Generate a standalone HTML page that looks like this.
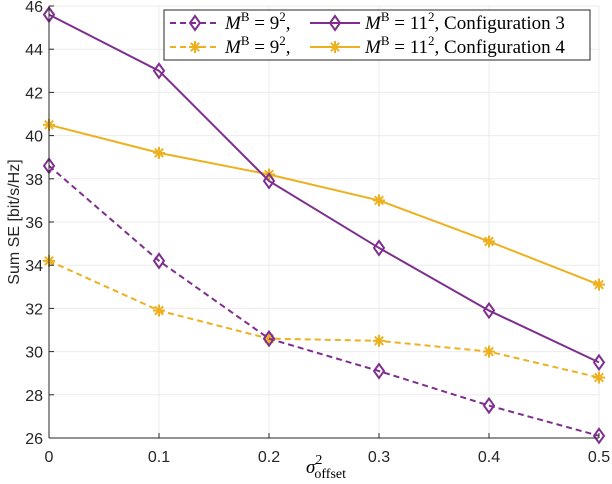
<!DOCTYPE html>
<html><head><meta charset="utf-8"><style>
html,body{margin:0;padding:0;background:#fff;width:612px;height:484px;overflow:hidden}
svg{display:block}
.t{font-family:"Liberation Sans",sans-serif;font-size:16px;fill:#262626}
.s{font-family:"Liberation Serif",serif;font-size:19px;fill:#000}
</style></head><body>
<svg id="chart" width="612" height="484">
<g id="grid"></g><g id="series"></g><g id="axes"></g><g id="legend"></g>
</svg>
<script>
const xVals=[0,0.1,0.2,0.3,0.4,0.5];
const cfg3B9=[38.6,34.2,30.6,29.1,27.5,26.1];
const cfg3B11=[45.6,43.0,37.9,34.8,31.9,29.5];
const cfg4B9=[34.2,31.9,30.6,30.5,30.0,28.8];
const cfg4B11=[40.5,39.2,38.2,37.0,35.1,33.1];
const xTicks=[0,0.1,0.2,0.3,0.4,0.5];
const yTicks=[26,28,30,32,34,36,38,40,42,44,46];
const NS="http://www.w3.org/2000/svg";
const X0=49,X1=599,Y0=438,Y1=6;
const sx=v=>X0+(v-0)/(0.5)*(X1-X0);
const sy=v=>Y0-(v-26)/(20)*(Y0-Y1);
function mk(tag,attrs,parent,text){const e=document.createElementNS(NS,tag);for(const k in attrs)e.setAttribute(k,attrs[k]);if(text!==undefined)e.textContent=text;parent.appendChild(e);return e;}
const grid=document.getElementById('grid'),axes=document.getElementById('axes'),ser=document.getElementById('series'),leg=document.getElementById('legend');
xTicks.forEach(t=>{const l=mk('line',{x1:sx(t),x2:sx(t),y1:Y1,y2:Y0,stroke:'#ebebeb','stroke-width':1},grid);


const tx=mk('text',{x:sx(t),y:Y0+24,'text-anchor':'middle',class:'t'},axes,String(t));


mk('line',{x1:sx(t),x2:sx(t),y1:Y0,y2:Y0-5,stroke:'#262626'},axes);});
yTicks.forEach(t=>{const l=mk('line',{x1:X0,x2:X1,y1:sy(t),y2:sy(t),stroke:'#ebebeb','stroke-width':1},grid);


const tx=mk('text',{x:X0-6,y:sy(t)+6,'text-anchor':'end',class:'t'},axes,String(t));


mk('line',{x1:X0,x2:X0+5,y1:sy(t),y2:sy(t),stroke:'#262626'},axes);});
mk('line',{x1:X0,x2:X0,y1:Y1,y2:Y0,stroke:'#262626'},axes);
mk('line',{x1:X0,x2:X1,y1:Y0,y2:Y0,stroke:'#262626'},axes);
const yl=mk('text',{x:0,y:0,transform:`translate(19,${(Y0+Y1)/2}) rotate(-90)`,'text-anchor':'middle',class:'t'},axes,'Sum SE [bit/s/Hz]');


const xl=mk('text',{x:326,y:473,'text-anchor':'middle',class:'s','font-style':'italic','font-size':'21'},axes);


xl.innerHTML='σ<tspan dy="-9" font-size="14" font-style="normal">2</tspan><tspan dx="-8" dy="14" font-size="14" font-style="normal">offset</tspan>';
const PUR='#7E2F8E',YEL='#EDB120';
function diamond(x,y,c,p){return mk('path',{d:`M${x},${y-7}L${x+5},${y}L${x},${y+7}L${x-5},${y}Z`,fill:'none',stroke:c,'stroke-width':2},p);}
function star(x,y,c,p){const g=mk('g',{stroke:c,'stroke-width':2},p);const r=6;
[[0,r],[r,0],[r*0.7,r*0.7],[r*0.7,-r*0.7]].forEach(([a,b])=>mk('line',{x1:x-a,y1:y-b,x2:x+a,y2:y+b},g));return g;}
function series(vals,c,dash,marker,name){const g=mk('g',{},ser);


mk('polyline',{points:vals.map((v,i)=>sx(xVals[i])+','+sy(v)).join(' '),fill:'none',stroke:c,'stroke-width':2,'stroke-dasharray':dash?'6,4':'none'},g);
vals.forEach((v,i)=>{const m=marker(sx(xVals[i]),sy(v),c,g);

});}
series(cfg4B9,YEL,true,star,'config4-mb9-line');
series(cfg4B11,YEL,false,star,'config4-mb11-line');
series(cfg3B9,PUR,true,diamond,'config3-mb9-line');
series(cfg3B11,PUR,false,diamond,'config3-mb11-line');
const lb=mk('rect',{x:164,y:10,width:426,height:50,fill:'#fff',stroke:'#262626','stroke-width':1},leg);


function entry(x,y,c,dash,marker,label,name){const g=mk('g',{},leg);


mk('line',{x1:x,x2:x+50,y1:y,y2:y,stroke:c,'stroke-width':2,'stroke-dasharray':dash?'6,4':'none'},g);
marker(x+25,y,c,g);
const t=mk('text',{x:x+55,y:y+6,class:'s'},g);t.innerHTML=label;}
const l9='<tspan font-style="italic">M</tspan><tspan dy="-8" font-size="13">B</tspan><tspan dy="8"> = 9</tspan><tspan dy="-8" font-size="13">2</tspan><tspan dy="8">,</tspan>';
const l11=c=>'<tspan font-style="italic">M</tspan><tspan dy="-8" font-size="13">B</tspan><tspan dy="8"> = 11</tspan><tspan dy="-8" font-size="13">2</tspan><tspan dy="8">, Configuration '+c+'</tspan>';
entry(170,23,PUR,true,diamond,l9,'legend-entry-config3-mb9');
entry(310,23,PUR,false,diamond,l11(3),'legend-entry-config3-mb11');
entry(170,47,YEL,true,star,l9,'legend-entry-config4-mb9');
entry(310,47,YEL,false,star,l11(4),'legend-entry-config4-mb11');
</script>
</body></html>
